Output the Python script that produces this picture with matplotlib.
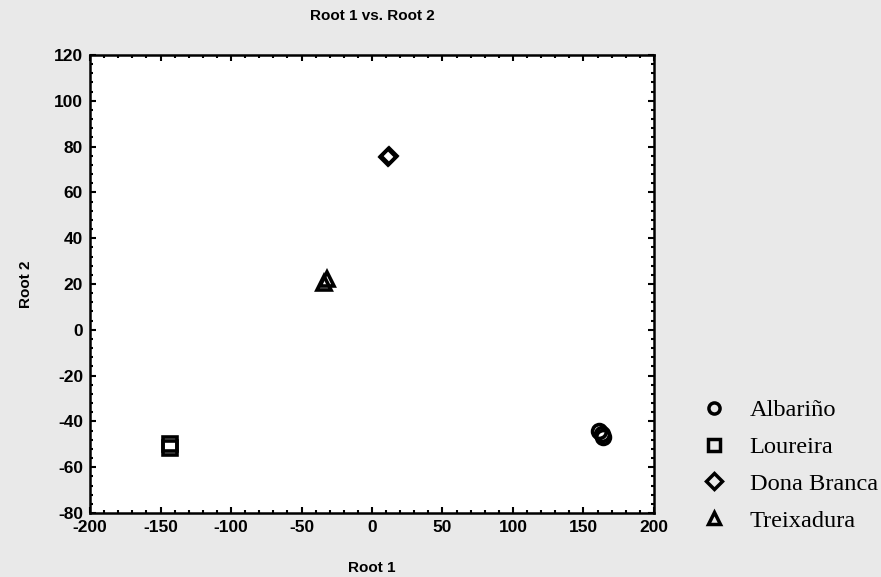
import matplotlib
matplotlib.use("Agg")
import matplotlib.pyplot as plt
from matplotlib.ticker import MultipleLocator

plt.rcParams["axes.unicode_minus"] = False

# cultivar scores on the two discriminant roots
albarino_x = [161, 164, 163]
albarino_y = [-44.2, -46.8, -45.5]
loureira_x = [-143, -143]
loureira_y = [-50, -51.5]
dona_x = [11, 12]
dona_y = [75.5, 76]
treix_x = [-34, -32]
treix_y = [20.5, 22]

names = ["Albariño", "Loureira", "Dona Branca", "Treixadura"]
markers = ["o", "s", "D", "^"]

fig = plt.figure(figsize=(8.81, 5.77), dpi=100, facecolor="#e9e9e9")
ax = fig.add_axes([0.1022, 0.1109, 0.6401, 0.7938])
ax.set_facecolor("white")

series = [(albarino_x, albarino_y), (loureira_x, loureira_y),
          (dona_x, dona_y), (treix_x, treix_y)]
sizes = [10, 10, 8, 10]
handles = []
for (xs, ys), m, s, n in zip(series, markers, sizes, names):
    h, = ax.plot(xs, ys, linestyle="none", marker=m, markersize=s,
                 markerfacecolor="none", markeredgecolor="black",
                 markeredgewidth=2.6, label=n)
    handles.append(h)

ax.set_xlim(-200, 200)
ax.set_ylim(-80, 120)
ax.xaxis.set_major_locator(MultipleLocator(50))
ax.xaxis.set_minor_locator(MultipleLocator(10))
ax.yaxis.set_major_locator(MultipleLocator(20))
ax.yaxis.set_minor_locator(MultipleLocator(4))
ax.tick_params(which="both", direction="in", top=True, right=True,
               width=1.5, colors="black")
ax.tick_params(which="major", length=4, labelsize=12.5, pad=5)
ax.tick_params(which="minor", length=2.5)
for lab in ax.get_xticklabels() + ax.get_yticklabels():
    lab.set_fontfamily("Liberation Sans")
    lab.set_fontweight("bold")
for sp in ax.spines.values():
    sp.set_linewidth(1.8)

ax.set_title("Root 1 vs. Root 2", fontfamily="Liberation Sans",
             fontweight="bold", fontsize=11, pad=25)
ax.set_xlabel("Root 1", fontfamily="Liberation Sans", fontweight="bold",
              fontsize=11, labelpad=19)
ax.set_ylabel("Root 2", fontfamily="Liberation Sans", fontweight="bold",
              fontsize=11, labelpad=15)

leg = fig.legend(handles=handles, loc="upper left",
                 bbox_to_anchor=(0.787, 0.325), frameon=False,
                 prop={"family": "Liberation Serif", "size": 17.6},
                 handlelength=0.85, handletextpad=1.05, labelspacing=0.6,
                 borderaxespad=0)
for h in leg.legend_handles:
    h.set_markersize(8)
    h.set_markeredgewidth(2.5)

fig.savefig("out.png", dpi=100, facecolor=fig.get_facecolor())
